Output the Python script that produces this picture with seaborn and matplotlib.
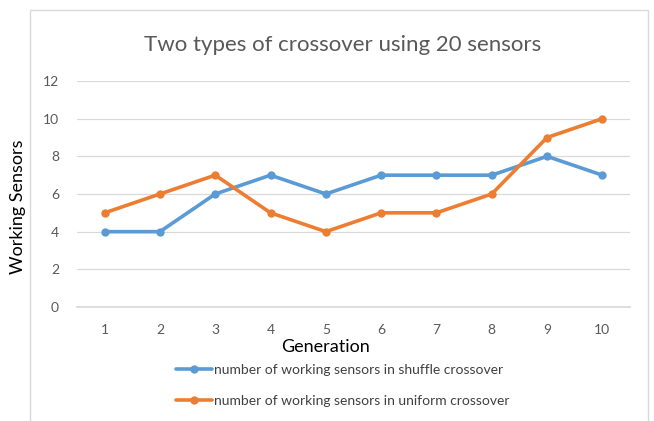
import matplotlib
matplotlib.use("Agg")
import matplotlib.pyplot as plt
import seaborn as sns
import pandas as pd
from matplotlib.patches import Rectangle

generations = [1, 2, 3, 4, 5, 6, 7, 8, 9, 10]
shuffle_working = [4, 4, 6, 7, 6, 7, 7, 7, 8, 7]
uniform_working = [5, 6, 7, 5, 4, 5, 5, 6, 9, 10]
series_names = [
    "number of working sensors in shuffle crossover",
    "number of working sensors in uniform crossover",
]
y_ticks = [0, 2, 4, 6, 8, 10, 12]

df = pd.DataFrame({
    "Generation": generations * 2,
    "Working Sensors": shuffle_working + uniform_working,
    "series": [series_names[0]] * len(generations) + [series_names[1]] * len(generations),
})

sns.set_theme(style="white")
plt.rcParams["font.family"] = ["Lato", "DejaVu Sans"]

W, H = 654, 421
fig = plt.figure(figsize=(W / 100, H / 100), dpi=100)
ax = fig.add_axes([77 / W, 1 - 307 / H, (630 - 77) / W, (307 - 81) / H])

# chart frame
fig.patches.append(Rectangle((30 / W, -0.05), (648 - 30) / W, 1.05 - 10 / H,
                             transform=fig.transFigure, fill=False,
                             edgecolor="#d9d9d9", linewidth=1.0))

palette = {series_names[0]: "#5B9BD5", series_names[1]: "#ED7D31"}
sns.lineplot(data=df, x="Generation", y="Working Sensors", hue="series",
             palette=palette, marker="o", markersize=6, markeredgewidth=0,
             linewidth=2.6, ax=ax, legend=True)

ax.set_xlim(0.5, 10.5)
ax.set_ylim(0, 12)
ax.set_yticks(y_ticks)
ax.set_xticks(generations)
ax.yaxis.grid(True, color="#d9d9d9", linewidth=0.9)
ax.xaxis.grid(False)
for s in ["top", "right", "left"]:
    ax.spines[s].set_visible(False)
ax.spines["bottom"].set_color("#d9d9d9")
ax.tick_params(axis="both", length=0, labelsize=10, labelcolor="#595959")
ax.tick_params(axis="x", pad=12)
ax.tick_params(axis="y", pad=13)

ax.set_xlabel("")
ax.set_ylabel("")
fig.text(326 / W, 1 - 347 / H, "Generation", fontsize=13,
         color="#000000", ha="center", va="center")
fig.text(18 / W, 1 - 207 / H, "Working Sensors", rotation=90, fontsize=13,
         color="#000000", ha="center", va="center")
fig.text(343 / W, 1 - 45 / H, "Two types of crossover using 20 sensors",
         fontsize=16, color="#595959", ha="center", va="center")

handles, labels = ax.get_legend_handles_labels()
ax.legend(handles, labels, loc="upper left", bbox_to_anchor=(169 / W, 1 - 357 / H),
          bbox_transform=fig.transFigure, frameon=False, fontsize=10,
          labelcolor="#404040", handlelength=2.6, handletextpad=0.15,
          labelspacing=1.35, borderpad=0)

fig.savefig("out.png", dpi=100)
